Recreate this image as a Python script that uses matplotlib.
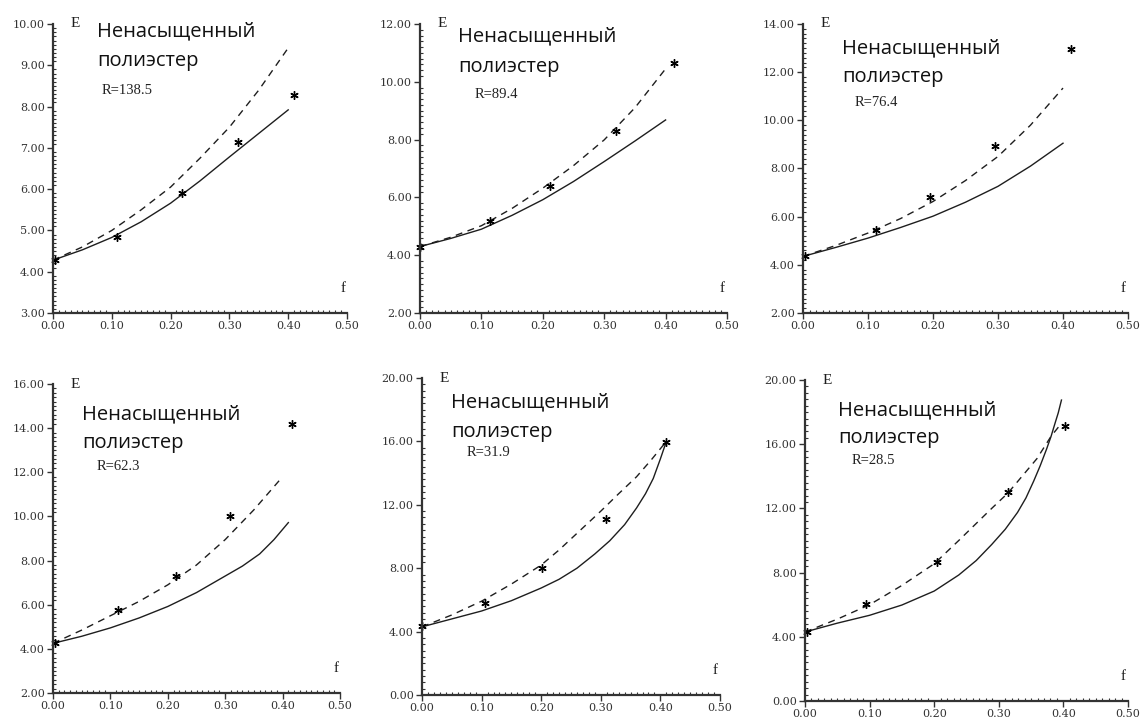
import matplotlib
matplotlib.use("Agg")
import matplotlib.pyplot as plt
from matplotlib.ticker import MultipleLocator, AutoMinorLocator, FormatStrFormatter

# Data (E vs f for six R values)
r_labels = ["R=138.5", "R=89.4", "R=76.4", "R=62.3", "R=31.9", "R=28.5"]
y_ranges = [(3, 10, 1), (2, 12, 2), (2, 14, 2), (2, 16, 2), (0, 20, 4), (0, 20, 4)]

f_std = [0.0, 0.05, 0.10, 0.15, 0.20, 0.25, 0.30, 0.35, 0.40]

# panel 1
solid_1 = [4.28, 4.53, 4.83, 5.21, 5.66, 6.20, 6.78, 7.35, 7.92]
dashed_1 = [4.28, 4.60, 5.00, 5.50, 6.05, 6.75, 7.50, 8.40, 9.42]
pts_f_1 = [0.003, 0.109, 0.219, 0.314, 0.410]
pts_E_1 = [4.28, 4.84, 5.90, 7.14, 8.28]

# panel 2
solid_2 = [4.30, 4.58, 4.90, 5.38, 5.92, 6.55, 7.24, 7.95, 8.68]
dashed_2 = [4.30, 4.62, 5.02, 5.62, 6.32, 7.10, 7.99, 9.10, 10.45]
pts_f_2 = [0.0, 0.114, 0.212, 0.320, 0.413]
pts_E_2 = [4.30, 5.17, 6.40, 8.30, 10.66]

# panel 3
solid_3 = [4.35, 4.72, 5.11, 5.55, 6.02, 6.60, 7.26, 8.10, 9.05]
dashed_3 = [4.35, 4.80, 5.32, 5.92, 6.63, 7.50, 8.50, 9.80, 11.34]
pts_f_3 = [0.003, 0.112, 0.196, 0.296, 0.413]
pts_E_3 = [4.35, 5.46, 6.81, 8.92, 12.95]

# panel 4
f_solid_4 = [0.0, 0.05, 0.10, 0.15, 0.20, 0.25, 0.30, 0.33, 0.36, 0.385, 0.41]
solid_4 = [4.25, 4.57, 4.95, 5.40, 5.92, 6.55, 7.30, 7.75, 8.30, 8.95, 9.72]
f_dashed_4 = [0.0, 0.05, 0.10, 0.15, 0.20, 0.25, 0.30, 0.35, 0.40]
dashed_4 = [4.25, 4.85, 5.50, 6.15, 6.90, 7.80, 8.95, 10.30, 11.80]
pts_f_4 = [0.003, 0.113, 0.215, 0.308, 0.416]
pts_E_4 = [4.25, 5.77, 7.30, 10.02, 14.20]

# panel 5
f_solid_5 = [0.0, 0.05, 0.10, 0.15, 0.20, 0.23, 0.26, 0.29, 0.315, 0.34, 0.36, 0.375, 0.388, 0.40, 0.41]
solid_5 = [4.30, 4.80, 5.30, 5.95, 6.75, 7.30, 8.00, 8.90, 9.73, 10.75, 11.80, 12.70, 13.66, 14.90, 16.00]
f_dashed_5 = [0.0, 0.05, 0.10, 0.15, 0.20, 0.23, 0.26, 0.30, 0.33, 0.36, 0.385, 0.41]
dashed_5 = [4.30, 5.05, 5.92, 7.00, 8.20, 9.15, 10.20, 11.60, 12.70, 13.77, 14.85, 16.00]
pts_f_5 = [0.0, 0.106, 0.201, 0.309, 0.410]
pts_E_5 = [4.33, 5.82, 7.99, 11.10, 15.96]

# panel 6
f_solid_6 = [0.0, 0.05, 0.10, 0.15, 0.20, 0.238, 0.265, 0.289, 0.31, 0.329, 0.342, 0.354,
             0.364, 0.374, 0.381, 0.387, 0.392, 0.397]
solid_6 = [4.30, 4.85, 5.34, 5.98, 6.85, 7.85, 8.75, 9.75, 10.70, 11.75, 12.65, 13.70,
           14.65, 15.70, 16.50, 17.30, 17.95, 18.75]
f_dashed_6 = [0.0, 0.05, 0.10, 0.15, 0.20, 0.238, 0.289, 0.314, 0.359, 0.381, 0.395]
dashed_6 = [4.30, 5.10, 6.00, 7.20, 8.55, 10.00, 12.00, 12.95, 15.10, 16.50, 17.20]
pts_f_6 = [0.003, 0.095, 0.204, 0.315, 0.402]
pts_E_6 = [4.30, 6.07, 8.67, 13.04, 17.13]

panels = [
    (f_std, solid_1, f_std, dashed_1, pts_f_1, pts_E_1),
    (f_std, solid_2, f_std, dashed_2, pts_f_2, pts_E_2),
    (f_std, solid_3, f_std, dashed_3, pts_f_3, pts_E_3),
    (f_solid_4, solid_4, f_dashed_4, dashed_4, pts_f_4, pts_E_4),
    (f_solid_5, solid_5, f_dashed_5, dashed_5, pts_f_5, pts_E_5),
    (f_solid_6, solid_6, f_dashed_6, dashed_6, pts_f_6, pts_E_6),
]

W, H = 1143, 722

# axes boxes in pixels: x0, x1, ytop, ybottom
boxes = [(53, 347, 24, 313), (420, 727, 24, 313), (803, 1128, 24, 313),
         (53, 340, 384, 693), (422, 720, 378, 695), (805, 1128, 380, 701)]
# label positions in pixels: title line1 (x, y), line2 y, R (x, y)
text_pos = [(97, 31, 61, 102, 90), (458, 36, 67, 475, 94), (842, 48, 77, 855, 102),
            (82, 414, 443, 97, 467), (451, 402, 432, 467, 452), (838, 410, 438, 852, 460)]

fig = plt.figure(figsize=(W / 100, H / 100), dpi=100)
ink = "#1e1e1e"

for i, (fs, sv, fd, dv, pf, pe) in enumerate(panels):
    x0, x1, yt, yb = boxes[i]
    ax = fig.add_axes([x0 / W, 1 - yb / H, (x1 - x0) / W, (yb - yt) / H])
    lo, hi, step = y_ranges[i]

    ax.plot(fs, sv, color=ink, lw=1.0)
    ax.plot(fd, dv, color=ink, lw=1.0, linestyle=(0, (5, 4)))
    ax.plot(pf, pe, linestyle="none", marker=(6, 2, 0), markersize=6,
            color="black", markeredgewidth=1.0, clip_on=False)

    ax.set_xlim(0, 0.5)
    ax.set_ylim(lo, hi)
    ax.xaxis.set_major_locator(MultipleLocator(0.1))
    ax.yaxis.set_major_locator(MultipleLocator(step))
    ax.xaxis.set_minor_locator(AutoMinorLocator(10))
    ax.yaxis.set_minor_locator(AutoMinorLocator(10))
    ax.xaxis.set_major_formatter(FormatStrFormatter("%.2f"))
    ax.yaxis.set_major_formatter(FormatStrFormatter("%.2f"))

    for s in ["top", "right"]:
        ax.spines[s].set_visible(False)
    for s in ["left", "bottom"]:
        ax.spines[s].set_linewidth(1.6)
        ax.spines[s].set_color("#333333")
    ax.tick_params(which="major", direction="out", length=4, width=1.0,
                   colors="#333333", labelsize=8, pad=2)
    ax.tick_params(which="minor", direction="in", length=2.5, width=0.8,
                   colors="#333333")
    for lab in ax.get_xticklabels() + ax.get_yticklabels():
        lab.set_fontfamily("DejaVu Serif")
    ax.patch.set_alpha(0)

    # axis names
    ax.text(18 / (x1 - x0), 1.0, "E", transform=ax.transAxes, ha="left", va="center",
            fontsize=11, family="Liberation Serif", color=ink)
    ax.text(0.985, 18 / (yb - yt), "f", transform=ax.transAxes, ha="center", va="bottom",
            fontsize=11, family="Liberation Serif", color=ink)

    tx, ty1, ty2, rx, ry = text_pos[i]
    fig.text(tx / W, 1 - ty1 / H, "Ненасыщенный", ha="left", va="center",
             fontsize=14.5, family="Open Sans", color="#111111")
    fig.text(tx / W, 1 - ty2 / H, "полиэстер", ha="left", va="center",
             fontsize=14.5, family="Open Sans", color="#111111")
    fig.text(rx / W, 1 - ry / H, r_labels[i], ha="left", va="center",
             fontsize=10.5, family="Liberation Serif", color="#222222")

fig.savefig("out.png", dpi=100)
